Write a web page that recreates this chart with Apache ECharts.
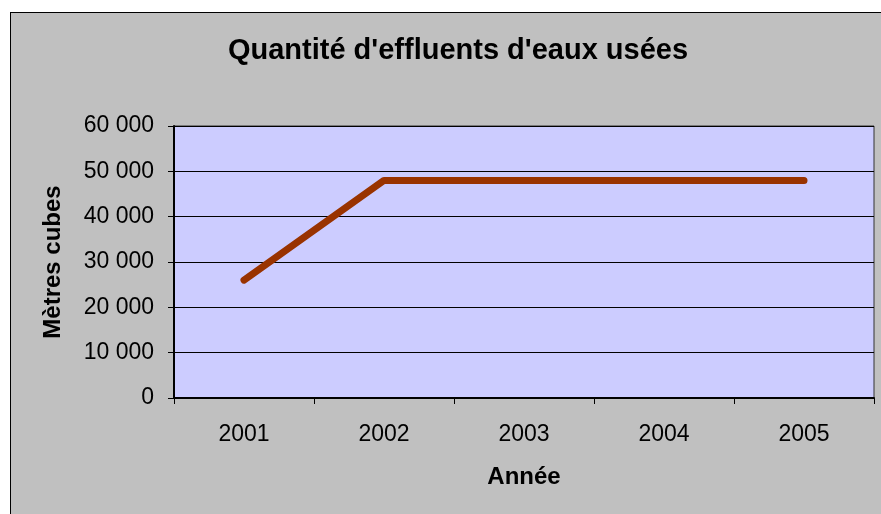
<!DOCTYPE html>
<html>
<head>
<meta charset="utf-8">
<script src="https://cdn.jsdelivr.net/npm/echarts@6/dist/echarts.min.js"></script>
<style>
html,body{margin:0;padding:0;background:#fff;}
#frame{position:absolute;left:10px;top:12px;width:900px;height:600px;background:#c0c0c0;border:1px solid #000;}
#c{position:absolute;left:0;top:0;width:881px;height:514px;}
</style>
</head>
<body>
<div id="frame"></div>
<div id="c"></div>
<script>
var categories = ['2001', '2002', '2003', '2004', '2005'];
var values = [26000, 48000, 48000, 48000, 48000];
var yTicks = [0, 10000, 20000, 30000, 40000, 50000, 60000];

var font = 'Arial, "Liberation Sans", sans-serif';
var chart = echarts.init(document.getElementById('c'));
chart.setOption({
  backgroundColor: 'transparent',
  animation: false,
  title: {
    text: "Quantité d'effluents d'eaux usées",
    left: 453, top: 31, textAlign: 'center',
    textStyle: {fontFamily: font, fontSize: 29, fontWeight: 'bold', color: '#000'}
  },
  grid: {
    left: 174, top: 126, width: 700, height: 272,
    show: true, backgroundColor: '#ccccff', borderColor: '#333', borderWidth: 1
  },
  xAxis: {
    type: 'category',
    data: categories,
    boundaryGap: true,
    name: 'Année',
    nameLocation: 'middle',
    nameGap: 67,
    nameTextStyle: {fontFamily: font, fontSize: 24, fontWeight: 'bold', color: '#000'},
    axisLine: {lineStyle: {color: '#000', width: 2}},
    axisTick: {show: true, length: 6, lineStyle: {color: '#000', width: 1}},
    axisLabel: {fontFamily: font, fontSize: 23, color: '#000', margin: 25},
    splitLine: {show: false}
  },
  yAxis: {
    type: 'value',
    min: yTicks[0], max: yTicks[yTicks.length - 1], interval: 10000,
    name: 'Mètres cubes',
    nameLocation: 'middle',
    nameRotate: 90,
    nameGap: 109,
    nameTextStyle: {fontFamily: font, fontSize: 24, fontWeight: 'bold', color: '#000'},
    axisLine: {show: true, lineStyle: {color: '#000', width: 2}},
    axisTick: {show: true, length: 6, lineStyle: {color: '#000', width: 1}},
    axisLabel: {
      fontFamily: font, fontSize: 23, color: '#000', margin: 20,
      formatter: function (v) { return String(v).replace(/\B(?=(\d{3})+(?!\d))/g, ' '); }
    },
    splitLine: {show: true, lineStyle: {color: '#000', width: 1}}
  },
  series: [{
    type: 'line',
    data: values,
    symbol: 'none',
    lineStyle: {color: '#993300', width: 7, cap: 'round', join: 'round'},
    itemStyle: {color: '#993300'}
  }]
});
</script>
</body>
</html>
